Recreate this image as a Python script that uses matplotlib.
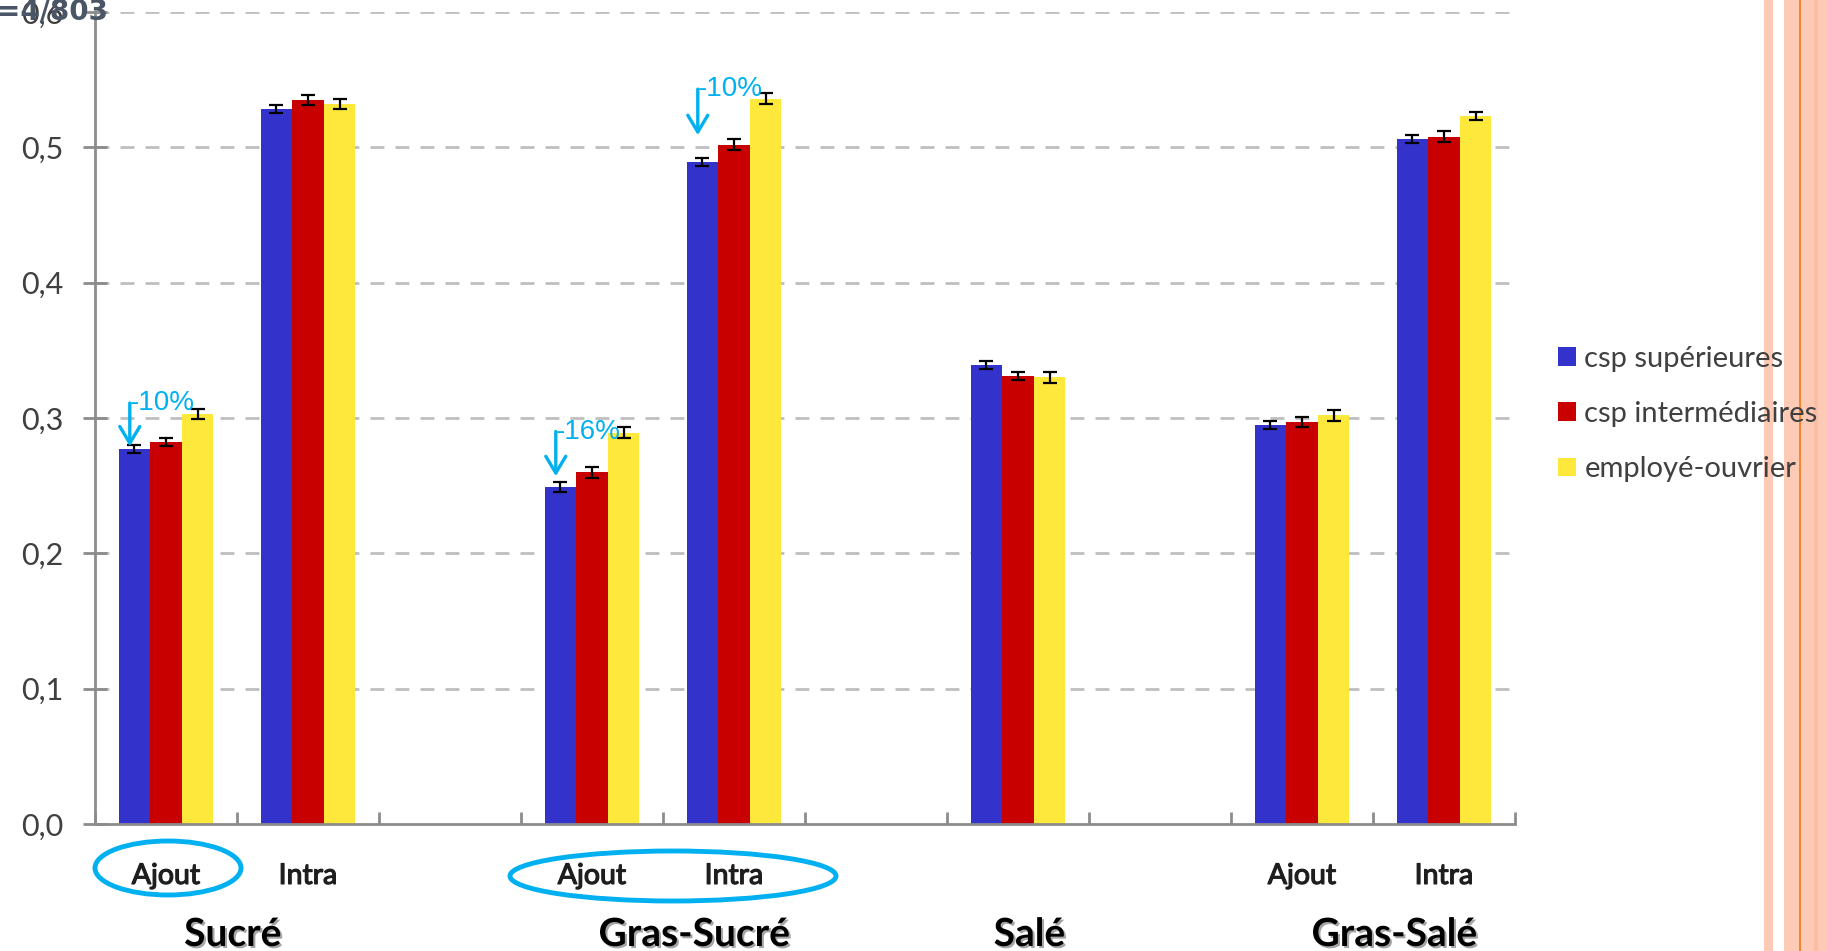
import matplotlib
matplotlib.use("Agg")
import matplotlib.pyplot as plt
import matplotlib.patheffects as pe
import matplotlib.transforms as mtransforms
from matplotlib.patches import Rectangle, Ellipse
import numpy as np

# ---------------- data ----------------
slot_labels = ["Ajout", "Intra", "", "Ajout", "Intra", "", "", "", "Ajout", "Intra"]
group_labels = ["Sucré", "Gras-Sucré", "Salé", "Gras-Salé"]
group_centers = [0.47, 3.72, 6.08, 8.65]
series_names = ["csp supérieures", "csp intermédiaires", "employé-ouvrier"]
nan = np.nan
sup = [0.277, 0.528, nan, 0.249, 0.489, nan, 0.339, nan, 0.295, 0.506]
inter = [0.282, 0.535, nan, 0.260, 0.502, nan, 0.331, nan, 0.297, 0.508]
emp = [0.303, 0.532, nan, 0.289, 0.536, nan, 0.330, nan, 0.302, 0.523]
err_sup = [0.003, 0.003, nan, 0.004, 0.003, nan, 0.003, nan, 0.003, 0.003]
err_inter = [0.003, 0.004, nan, 0.004, 0.004, nan, 0.003, nan, 0.004, 0.004]
err_emp = [0.004, 0.004, nan, 0.004, 0.004, nan, 0.004, nan, 0.004, 0.003]
yticks = [0.0, 0.1, 0.2, 0.3, 0.4, 0.5, 0.6]
ytick_labels = ["0,0", "0,1", "0,2", "0,3", "0,4", "0,5", "0,6"]
# annotations: text, slot, arrow top value, arrow tip value
annot_text = ["-10%", "-16%", "-10%"]
annot_slot = [0, 3, 4]
annot_top = [0.311, 0.290, 0.543]
annot_tip = [0.279, 0.257, 0.509]

colors = ["#3333CC", "#C80000", "#FFE83C"]
cyan = "#00B0F0"

W, H = 1827, 951
fig = plt.figure(figsize=(W / 100, H / 100), dpi=100)
fig.patch.set_facecolor("white")

def fx(px):
    return px / W

def fy(py):
    return (H - py) / H

ax_left, ax_right, ax_bottom, ax_top = 95, 1515, 824, 12
ax = fig.add_axes([fx(ax_left), fy(ax_bottom), fx(ax_right) - fx(ax_left), fy(ax_top) - fy(ax_bottom)])
ax.set_xlim(-0.5, 9.5)
ax.set_ylim(0, 0.6)

x = np.arange(len(slot_labels))
bw = 0.222
for k, (vals, errs) in enumerate([(sup, err_sup), (inter, err_inter), (emp, err_emp)]):
    xs = x + (k - 1) * bw
    ax.bar(xs, vals, width=bw, color=colors[k], edgecolor="none", zorder=3, label=series_names[k])
    ax.errorbar(xs, vals, yerr=errs, fmt="none", ecolor="black", elinewidth=1.6,
                capsize=5, capthick=1.6, zorder=4)

# grid
for yv in yticks[1:]:
    ax.axhline(yv, color="#BFBFBF", lw=2, ls=(0, (5, 4)), zorder=1)

for s in ["top", "right"]:
    ax.spines[s].set_visible(False)
for s in ["left", "bottom"]:
    ax.spines[s].set_color("#8C8C8C")
    ax.spines[s].set_linewidth(2)
    ax.spines[s].set_zorder(5)

ax.set_yticks(yticks)
ax.set_yticklabels(ytick_labels, fontsize=22, color="#404040", family="Lato")
ax.tick_params(axis="y", direction="inout", length=17, width=2, color="#8C8C8C", pad=14)

ax.set_xticks(np.arange(-0.5, 10, 1.0))
ax.set_xticklabels([])
ax.tick_params(axis="x", which="major", direction="in", length=9, width=2, color="#8C8C8C")
ax.set_xticks(x, minor=True)
ax.set_xticklabels(slot_labels, minor=True, fontsize=20.5, color="#1E1E1E", family="Lato",
                   path_effects=[pe.withStroke(linewidth=0.9, foreground="#1E1E1E")])
ax.tick_params(axis="x", which="minor", length=0, pad=28)

# group labels
blend = mtransforms.blended_transform_factory(ax.transData, fig.transFigure)
for lab, gc in zip(group_labels, group_centers):
    ax.text(gc, fy(946), lab, transform=blend,
            ha="center", va="baseline", fontsize=28, fontweight="bold", family="Lato",
            color="black",
            path_effects=[pe.SimplePatchShadow(offset=(1.5, -1.5), alpha=0.35), pe.Normal()])

# annotations (arrows and percentages)
for txt, i, ytop, ytip in zip(annot_text, annot_slot, annot_top, annot_tip):
    xa = i - 0.255
    ax.annotate("", xy=(xa, ytip), xytext=(xa, ytop),
                arrowprops=dict(arrowstyle="->,head_length=0.75,head_width=0.45",
                                mutation_scale=16,
                                color=cyan, lw=2.4, shrinkA=0, shrinkB=0), zorder=6)
    ax.text(xa + 0.003, ytop, txt, color=cyan, fontsize=20, family="Liberation Sans",
            ha="left", va="center", zorder=6)

# ellipses around labels
for (cxp, cyp, wp, hp) in [(168, 868, 146, 54), (673, 876, 326, 50)]:
    e = Ellipse((fx(cxp), fy(cyp)), fx(wp), hp / H, transform=fig.transFigure,
                fill=False, edgecolor=cyan, lw=3.5, zorder=10)
    fig.patches.append(e)

# right decoration stripes
salmon = "#FDCAB6"
for (x0, x1, c) in [(1764, 1773, salmon), (1784, 1827, salmon), (1814, 1818, "#FBBDA3")]:
    fig.patches.append(Rectangle((fx(x0), 0), fx(x1 - x0), 1, transform=fig.transFigure,
                                 facecolor=c, edgecolor="none", zorder=-5))
fig.patches.append(Rectangle((fx(1799), 0), fx(2), 1, transform=fig.transFigure,
                             facecolor="#F4862F", edgecolor="none", zorder=-4))

# legend
handles = [Rectangle((0, 0), 1, 1, facecolor=c, edgecolor="none") for c in colors]
leg = fig.legend(handles, series_names, loc="center left", bbox_to_anchor=(fx(1558), fy(414)),
                 frameon=False, handlelength=0.6, handleheight=0.6,
                 handletextpad=0.3, labelspacing=1.0, borderaxespad=0, borderpad=0,
                 prop={"family": "Lato", "size": 21})
for t in leg.get_texts():
    t.set_color("#404040")

# top-left overlapping text
fig.text(fx(-3), fy(-2), "=4/803", ha="left", va="top", fontsize=20, fontweight="bold",
         color="#4A5565", family="DejaVu Sans")

fig.savefig("out.png", dpi=100)
